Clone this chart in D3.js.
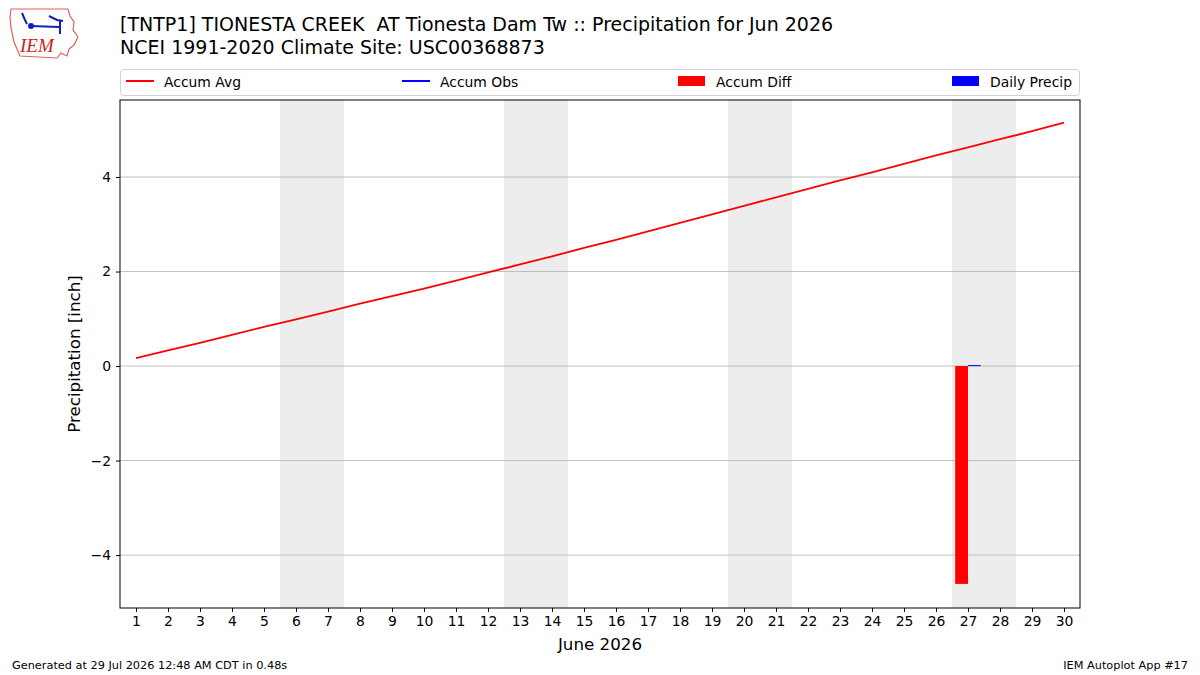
<!DOCTYPE html>
<html>
<head>
<meta charset="utf-8">
<script src="https://cdn.jsdelivr.net/npm/d3@7"></script>
<style>
  body { margin: 0; background: #fff; }
  svg { font-family: "DejaVu Sans", sans-serif; }
</style>
</head>
<body>
<div id="chart"></div>
<script>
// days of June 2026
const days = d3.range(1, 31)
// climatology accumulated average precipitation [inch]
const accumAvg = [0.17, 0.33, 0.49, 0.66, 0.83, 0.99, 1.15, 1.32, 1.48, 1.64,
    1.81, 1.98, 2.15, 2.32, 2.50, 2.67, 2.85, 3.03, 3.21, 3.39,
    3.57, 3.75, 3.93, 4.10, 4.28, 4.46, 4.63, 4.80, 4.97, 5.15]
// observed days (only one report)
const obsDays = [27]
const dailyPrecip = [0.02]
const accumObs = [0.02]
const accumDiff = [-4.61]
const weekendStarts = [6, 13, 20, 27]
const yTicks = [-4, -2, 0, 2, 4]

const width = 1200, height = 675
const margin = {top: 100, right: 120, bottom: 67, left: 120}

const svg = d3.select("#chart").append("svg")
    .attr("width", width)
    .attr("height", height)

const x = d3.scaleLinear().domain([0.5, 30.5]).range([margin.left, width - margin.right])
const y = d3.scaleLinear().domain([-5.12, 5.63]).range([height - margin.bottom, margin.top])

// weekend shading
svg.selectAll("rect.weekend")
    .data(weekendStarts)
    .enter().append("rect")
    .attr("class", "weekend")
    .attr("x", d => x(d - 0.5))
    .attr("width", d => x(d + 1.5) - x(d - 0.5))
    .attr("y", margin.top)
    .attr("height", y.range()[0] - margin.top)
    .attr("fill", "#ededed")

// grid
svg.selectAll("line.grid")
    .data(yTicks)
    .enter().append("line")
    .attr("class", "grid")
    .attr("x1", x.range()[0]).attr("x2", x.range()[1])
    .attr("y1", d => y(d)).attr("y2", d => y(d))
    .attr("stroke", "#b0b0b0").attr("stroke-width", 0.8)

// accum diff bars (left of the day)
svg.selectAll("rect.diff")
    .data(obsDays)
    .enter().append("rect")
    .attr("class", "diff")
    .attr("x", d => x(d - 0.4))
    .attr("width", d => x(d) - x(d - 0.4))
    .attr("y", (d, i) => y(Math.max(0, accumDiff[i])))
    .attr("height", (d, i) => Math.abs(y(accumDiff[i]) - y(0)))
    .attr("fill", "red")

// daily precip bars (right of the day)
svg.selectAll("rect.daily")
    .data(obsDays)
    .enter().append("rect")
    .attr("class", "daily")
    .attr("x", d => x(d))
    .attr("width", d => x(d + 0.4) - x(d))
    .attr("y", (d, i) => y(dailyPrecip[i]))
    .attr("height", (d, i) => Math.max(1, y(0) - y(dailyPrecip[i])))
    .attr("fill", "blue")

// accum avg line
let line = d3.line().x((d, i) => x(days[i])).y(d => y(d))
svg.append("path")
    .datum(accumAvg)
    .attr("d", line)
    .attr("fill", "none")
    .attr("stroke", "red")
    .attr("stroke-width", 1.8)

// accum obs line
let obsLine = d3.line().x((d, i) => x(obsDays[i])).y(d => y(d))
svg.append("path")
    .datum(accumObs)
    .attr("d", obsLine)
    .attr("fill", "none")
    .attr("stroke", "blue")
    .attr("stroke-width", 1.8)

// axes
let xAxis = svg.append("g")
    .attr("transform", "translate(0," + y.range()[0] + ")")
    .call(d3.axisBottom(x).tickValues(days).tickSize(4).tickPadding(4).tickFormat(d3.format("d")))
let yAxis = svg.append("g")
    .attr("transform", "translate(" + x.range()[0] + ",0)")
    .call(d3.axisLeft(y).tickValues(yTicks).tickSize(4).tickPadding(5)
        .tickFormat(d => d < 0 ? "\u2212" + Math.abs(d) : d))
for (let ax of [xAxis, yAxis]) {
    ax.select(".domain").remove()
    ax.selectAll("text").attr("font-size", 13.9).attr("fill", "#000").attr("font-family", "DejaVu Sans")
    ax.selectAll("line").attr("stroke", "#000")
}

// frame
svg.append("rect")
    .attr("x", x.range()[0]).attr("y", margin.top)
    .attr("width", x.range()[1] - x.range()[0])
    .attr("height", y.range()[0] - margin.top)
    .attr("fill", "none").attr("stroke", "#000").attr("stroke-width", 1)

// axis labels
svg.append("text")
    .attr("x", (x.range()[0] + x.range()[1]) / 2).attr("y", 650)
    .attr("text-anchor", "middle").attr("font-size", 16.7)
    .text("June 2026")
svg.append("text")
    .attr("transform", "translate(80," + (y.range()[0] + margin.top) / 2 + ") rotate(-90)")
    .attr("text-anchor", "middle").attr("font-size", 16.7)
    .text("Precipitation [inch]")

// titles
svg.append("text").attr("x", 120).attr("y", 31).attr("font-size", 19)
    .text("[TNTP1] TIONESTA CREEK \u00a0AT Tionesta Dam Tw :: Precipitation for Jun 2026")
svg.append("text").attr("x", 120).attr("y", 54).attr("font-size", 19)
    .text("NCEI 1991-2020 Climate Site: USC00368873")

// legend
let legend = svg.append("g")
legend.append("rect")
    .attr("x", 120.5).attr("y", 69.5).attr("width", 959).attr("height", 26).attr("rx", 3)
    .attr("fill", "#fff").attr("stroke", "#d0d0d0")
let legendItems = [
    {label: "Accum Avg", type: "line", color: "red", x: 126},
    {label: "Accum Obs", type: "line", color: "blue", x: 402},
    {label: "Accum Diff", type: "rect", color: "red", x: 678},
    {label: "Daily Precip", type: "rect", color: "blue", x: 952}
]
legendItems.forEach(function (d) {
    if (d.type === "line") {
        legend.append("line").attr("x1", d.x).attr("x2", d.x + 28)
            .attr("y1", 81).attr("y2", 81).attr("stroke", d.color).attr("stroke-width", 2)
    } else {
        legend.append("rect").attr("x", d.x).attr("y", 76).attr("width", 27).attr("height", 10)
            .attr("fill", d.color)
    }
    legend.append("text").attr("x", d.x + 38).attr("y", 86.5).attr("font-size", 13.9).text(d.label)
})

// footer
svg.append("text").attr("x", 12).attr("y", 669).attr("font-size", 11.3)
    .text("Generated at 29 Jul 2026 12:48 AM CDT in 0.48s")
svg.append("text").attr("x", 1188).attr("y", 669).attr("font-size", 11.3).attr("text-anchor", "end")
    .text("IEM Autoplot App #17")

// logo
let logo = svg.append("g")
logo.append("path")
    .attr("d", "M11,9 L68,9 L70,16 L74,22 L73,30 L78,37 L74,45 L69,49 L67,56 L61,53 L57,58 L20,56 L14,42 L11,28 L10,17 Z")
    .attr("fill", "none").attr("stroke", "#e06060").attr("stroke-width", 1.2)
logo.append("path")
    .attr("d", "M22,13 L25,20 L27,24 M31,26 L59,27 M49,16 L57,20 L63,21 M60,21 L60,34")
    .attr("fill", "none").attr("stroke", "#1020c0").attr("stroke-width", 2)
logo.append("circle").attr("cx", 31).attr("cy", 26).attr("r", 3).attr("fill", "#1020c0")
logo.append("text").attr("x", 20).attr("y", 52).attr("font-size", 19)
    .attr("font-family", "Liberation Serif").attr("font-style", "italic").attr("fill", "#d02020")
    .text("IEM")
</script>
</body>
</html>
